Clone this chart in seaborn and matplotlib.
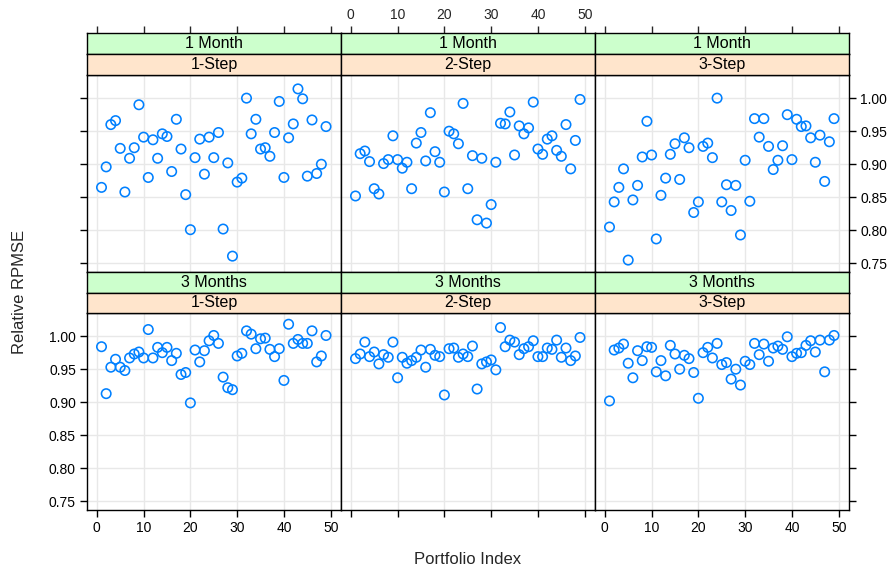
import numpy as np
import pandas as pd
import matplotlib
matplotlib.use("Agg")
import matplotlib.pyplot as plt
import seaborn as sns

# ---------------- data ----------------
portfolio = list(range(1, 50))

m1_step1 = [0.865, 0.896, 0.960, 0.966, 0.924, 0.858, 0.909, 0.925, 0.990, 0.941,
            0.880, 0.937, 0.909, 0.946, 0.942, 0.889, 0.968, 0.923, 0.854, 0.801,
            0.910, 0.938, 0.885, 0.941, 0.910, 0.948, 0.802, 0.902, 0.761, 0.873,
            0.879, 1.000, 0.946, 0.968, 0.923, 0.925, 0.912, 0.948, 0.995, 0.880,
            0.940, 0.961, 1.014, 0.999, 0.882, 0.967, 0.886, 0.900, 0.957]
m1_step2 = [0.852, 0.916, 0.920, 0.904, 0.863, 0.855, 0.901, 0.907, 0.943, 0.907,
            0.894, 0.903, 0.863, 0.932, 0.948, 0.905, 0.978, 0.919, 0.903, 0.858,
            0.950, 0.946, 0.931, 0.992, 0.863, 0.913, 0.816, 0.909, 0.811, 0.839,
            0.903, 0.962, 0.961, 0.979, 0.914, 0.958, 0.946, 0.955, 0.994, 0.923,
            0.915, 0.938, 0.943, 0.921, 0.912, 0.960, 0.893, 0.936, 0.998]
m1_step3 = [0.805, 0.843, 0.865, 0.893, 0.755, 0.846, 0.868, 0.911, 0.965, 0.914,
            0.787, 0.853, 0.879, 0.915, 0.931, 0.877, 0.940, 0.925, 0.827, 0.843,
            0.927, 0.932, 0.910, 1.000, 0.843, 0.869, 0.830, 0.868, 0.793, 0.906,
            0.844, 0.969, 0.941, 0.969, 0.927, 0.892, 0.906, 0.928, 0.975, 0.907,
            0.968, 0.957, 0.958, 0.940, 0.903, 0.944, 0.874, 0.934, 0.969]
m3_step1 = [0.984, 0.913, 0.953, 0.965, 0.953, 0.948, 0.967, 0.973, 0.976, 0.967,
            1.010, 0.967, 0.983, 0.975, 0.983, 0.963, 0.974, 0.942, 0.945, 0.899,
            0.979, 0.961, 0.978, 0.993, 1.001, 0.989, 0.938, 0.922, 0.919, 0.970,
            0.974, 1.008, 1.003, 0.981, 0.996, 0.997, 0.980, 0.969, 0.981, 0.933,
            1.018, 0.989, 0.995, 0.989, 0.989, 1.008, 0.961, 0.970, 1.001]
m3_step2 = [0.966, 0.973, 0.991, 0.969, 0.976, 0.958, 0.972, 0.968, 0.991, 0.937,
            0.968, 0.959, 0.963, 0.968, 0.979, 0.953, 0.980, 0.971, 0.969, 0.911,
            0.981, 0.982, 0.968, 0.973, 0.969, 0.985, 0.920, 0.958, 0.961, 0.964,
            0.949, 1.013, 0.984, 0.994, 0.991, 0.972, 0.981, 0.984, 0.993, 0.969,
            0.969, 0.982, 0.980, 0.994, 0.968, 0.982, 0.963, 0.970, 0.998]
m3_step3 = [0.902, 0.979, 0.982, 0.988, 0.959, 0.937, 0.978, 0.963, 0.984, 0.983,
            0.946, 0.963, 0.940, 0.986, 0.973, 0.950, 0.971, 0.966, 0.945, 0.906,
            0.975, 0.983, 0.967, 0.989, 0.957, 0.960, 0.935, 0.950, 0.926, 0.962,
            0.957, 0.989, 0.972, 0.988, 0.962, 0.982, 0.985, 0.980, 0.999, 0.969,
            0.974, 0.975, 0.986, 0.993, 0.976, 0.994, 0.946, 0.994, 1.001]

horizons = ["1 Month", "3 Months"]
steps = ["1-Step", "2-Step", "3-Step"]
x_ticks = [0, 10, 20, 30, 40, 50]
y_ticks = [0.75, 0.80, 0.85, 0.90, 0.95, 1.00]
y_tick_labels = ["0.75", "0.80", "0.85", "0.90", "0.95", "1.00"]

series = {
    ("1 Month", "1-Step"): m1_step1,
    ("1 Month", "2-Step"): m1_step2,
    ("1 Month", "3-Step"): m1_step3,
    ("3 Months", "1-Step"): m3_step1,
    ("3 Months", "2-Step"): m3_step2,
    ("3 Months", "3-Step"): m3_step3,
}
rows = []
for (h, s), vals in series.items():
    for p, v in zip(portfolio, vals):
        rows.append({"Horizon": h, "Step": s, "Portfolio": p, "RPMSE": v})
df = pd.DataFrame(rows)

# ---------------- style ----------------
sns.set_style("white")
plt.rcParams["font.family"] = ["Liberation Sans", "DejaVu Sans"]

W, H = 896, 573
fig = plt.figure(figsize=(W / 100, H / 100), dpi=100)

def rect(x0, y0, x1, y1):
    return [x0 / W, 1 - y1 / H, (x1 - x0) / W, (y1 - y0) / H]

col_px = [(87, 341), (341, 595), (595, 849)]
panel_px = [(75, 272), (313, 510)]
strip_px = [((33, 54), (54, 75)), ((272, 293), (293, 313))]
XLIM = (-2.1, 52.2)
YLIM = (0.737, 1.035)
GREEN = "#ccffcc"
PEACH = "#ffe5cc"
BLUE = "#0080ff"
GRID = "#e8e8e8"
TICKLEN = 5

for r, h in enumerate(horizons):
    for c, s in enumerate(steps):
        x0, x1 = col_px[c]
        y0, y1 = panel_px[r]
        ax = fig.add_axes(rect(x0, y0, x1, y1))
        sub = df[(df.Horizon == h) & (df.Step == s)]
        sns.scatterplot(data=sub, x="Portfolio", y="RPMSE", ax=ax,
                        color=BLUE, s=46, linewidth=1.15, legend=False)
        coll = ax.collections[0]
        coll.set_facecolor("none")
        coll.set_edgecolor(BLUE)
        ax.set_xlim(*XLIM)
        ax.set_ylim(*YLIM)
        ax.set_xticks(x_ticks)
        ax.set_yticks(y_ticks)
        ax.set_yticklabels(y_tick_labels)
        ax.grid(True, color=GRID, linewidth=1)
        ax.set_axisbelow(True)
        ax.set_xlabel("")
        ax.set_ylabel("")
        for sp in ax.spines.values():
            sp.set_color("black")
            sp.set_linewidth(1.0)
        ax.tick_params(axis="both", direction="out", length=TICKLEN, width=1,
                       labelsize=10, colors="black", pad=3)
        bottom = (r == 1)
        ax.tick_params(axis="x", bottom=bottom, top=False,
                       labelbottom=(bottom and c != 1), labeltop=False)
        ax.tick_params(axis="y", left=(c == 0), right=(c == 2),
                       labelleft=(c == 0 and r == 1),
                       labelright=(c == 2 and r == 0))

        # strips
        (g0, g1), (p0, p1) = strip_px[r]
        for (sy0, sy1), col, txt, is_outer in (((g0, g1), GREEN, h, True),
                                                 ((p0, p1), PEACH, s, False)):
            sax = fig.add_axes(rect(x0, sy0, x1, sy1))
            sax.set_facecolor(col)
            sax.set_xlim(*XLIM)
            sax.set_ylim(0, 1)
            sax.set_yticks([])
            for sp in sax.spines.values():
                sp.set_color("black")
                sp.set_linewidth(1.0)
            sax.text(0.5, 0.5, txt, transform=sax.transAxes, ha="center",
                     va="center", fontsize=11.5, color="black")
            if r == 0 and is_outer:
                sax.set_xticks(x_ticks)
                sax.tick_params(axis="x", bottom=False, labelbottom=False,
                                top=True, labeltop=(c == 1), direction="out",
                                length=TICKLEN, width=1, labelsize=10, pad=3)
            else:
                sax.set_xticks([])

fig.text(468 / W, 1 - 560 / H, "Portfolio Index", ha="center", va="center",
         fontsize=12)
fig.text(20 / W, 1 - 292 / H, "Relative RPMSE", ha="center", va="center",
         rotation=90, fontsize=12)

fig.savefig("out.png", dpi=100)
